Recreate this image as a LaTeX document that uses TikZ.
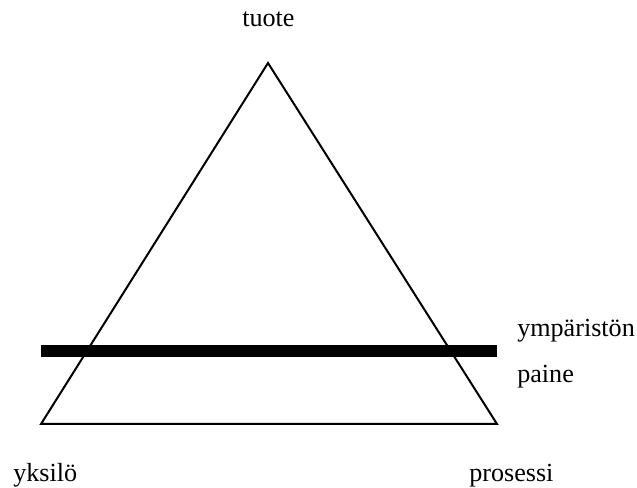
\documentclass[tikz,border=0pt]{standalone}
\usepackage{fontspec}
\setmainfont{Liberation Serif}
\begin{document}
\begin{tikzpicture}[x=0.75pt,y=-0.75pt,
  lbl/.style={anchor=base west,inner sep=0pt,font=\fontsize{19.6}{24}\selectfont},
  tri/.style={draw=black,line width=1.5pt,line join=miter},
  bar/.style={draw=black,line width=9pt}]
\useasboundingbox (0,0) rectangle (637,488);
% triangle corners
\coordinate (top) at (268,63);
\coordinate (bl) at (41,424);
\coordinate (br) at (497,424);
\draw[tri] (top) -- (bl) -- (br) -- cycle;
% thick horizontal bar
\coordinate (barL) at (41,351);
\coordinate (barR) at (497,351);
\draw[bar] (barL) -- (barR);
% labels
\node[lbl] (tuote) at (242,27) {tuote};
\node[lbl] (ymp) at (517,337) {ympäristön};
\node[lbl] (paine) at (517,383) {paine};
\node[lbl] (yks) at (13,482) {yksilö};
\node[lbl] (pros) at (469,482) {prosessi};
\end{tikzpicture}
\end{document}
